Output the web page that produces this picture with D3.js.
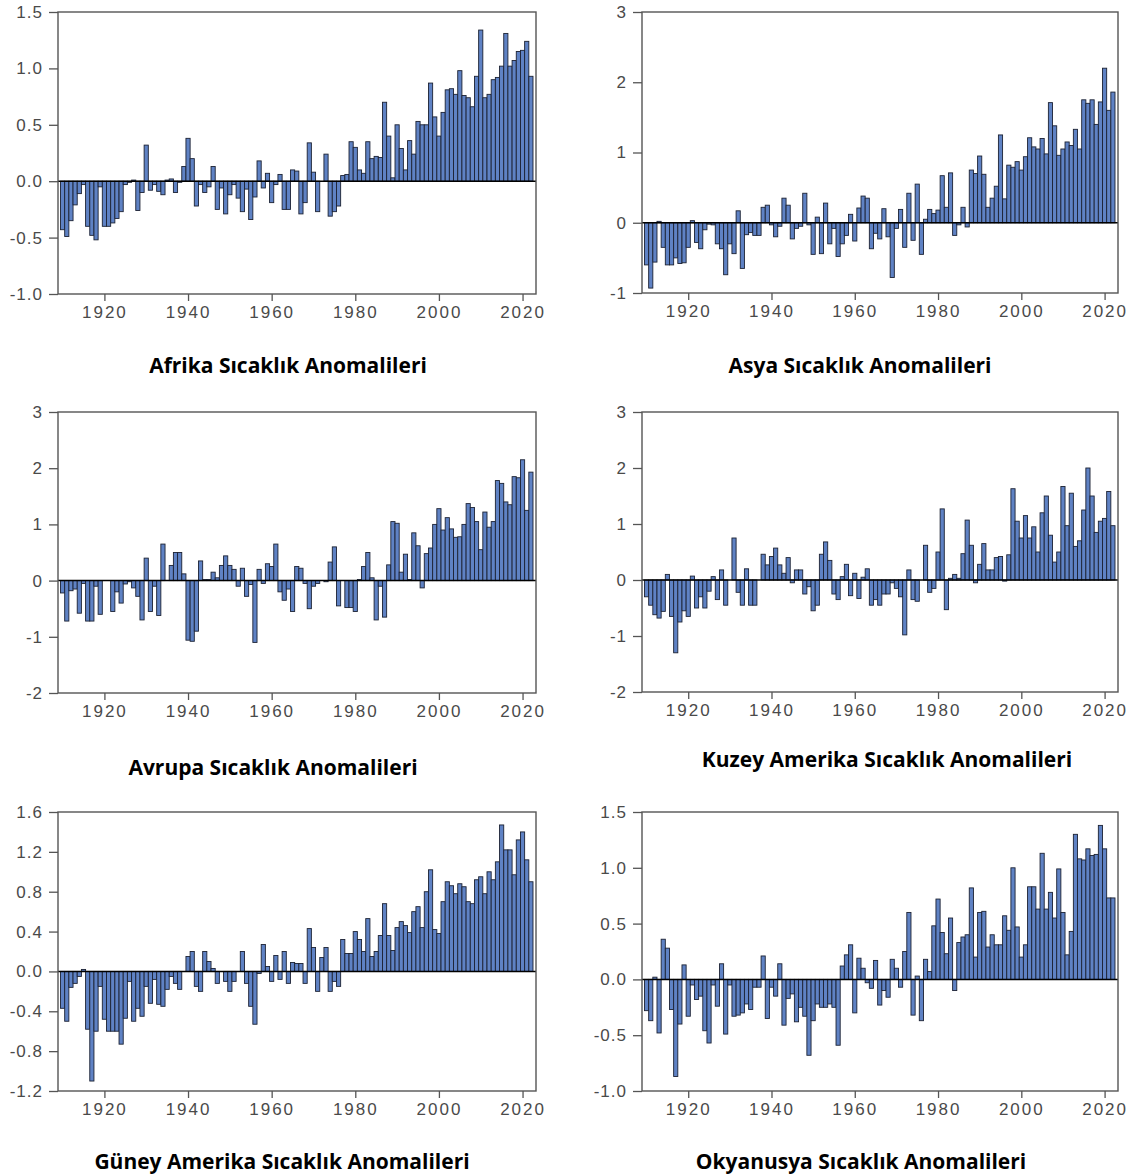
<!DOCTYPE html>
<html>
<head>
<meta charset="utf-8">
<script src="https://cdn.jsdelivr.net/npm/d3@7"></script>
<style>
  body { margin: 0; background: #fff; }
  .tick text { font-family: "Liberation Sans", Arial, sans-serif; font-size: 17px; fill: #4a4a4a; letter-spacing: 1px; }
  .xaxis .tick text { letter-spacing: 2px; }
  .title { font-family: "Open Sans", Lato, sans-serif; font-weight: 700; font-size: 21px; fill: #000; }
</style>
</head>
<body>
<svg id="chart" width="1137" height="1174"></svg>
<script>
// yearly anomalies, 1910 - 2022
var years = d3.range(1910, 2023);

var afrika = [
  -0.43, -0.49, -0.35, -0.21, -0.11, -0.03, -0.40, -0.48, -0.52, -0.05,
  -0.40, -0.40, -0.37, -0.33, -0.27, -0.03, -0.01, 0.01, -0.26, -0.10,
  0.32, -0.08, -0.03, -0.09, -0.12, 0.01, 0.02, -0.10, -0.01, 0.13,
  0.38, 0.20, -0.22, -0.03, -0.10, -0.05, 0.13, -0.25, -0.06, -0.29,
  -0.12, -0.03, -0.15, -0.27, -0.07, -0.34, -0.14, 0.18, -0.06, 0.07,
  -0.19, -0.03, 0.06, -0.25, -0.25, 0.10, 0.09, -0.29, -0.19, 0.34,
  0.08, -0.27, 0.00, 0.24, -0.31, -0.27, -0.22, 0.05, 0.06, 0.35,
  0.30, 0.10, 0.07, 0.35, 0.20, 0.22, 0.21, 0.70, 0.40, 0.03,
  0.50, 0.29, 0.10, 0.36, 0.24, 0.53, 0.50, 0.50, 0.87, 0.57,
  0.40, 0.61, 0.81, 0.82, 0.77, 0.98, 0.76, 0.74, 0.66, 0.93,
  1.34, 0.74, 0.77, 0.90, 0.92, 1.02, 1.31, 1.02, 1.07, 1.15,
  1.16, 1.24, 0.93
];

var asya = [
  -0.60, -0.93, -0.56, 0.02, -0.35, -0.60, -0.60, -0.50, -0.58, -0.57,
  -0.35, 0.03, -0.28, -0.37, -0.10, -0.02, -0.03, -0.30, -0.37, -0.74,
  -0.30, -0.44, 0.17, -0.65, -0.17, -0.14, -0.18, -0.18, 0.22, 0.25,
  -0.03, -0.20, -0.05, 0.35, 0.25, -0.23, -0.08, -0.05, 0.42, -0.03,
  -0.45, 0.08, -0.44, 0.28, -0.30, -0.08, -0.48, -0.30, -0.18, 0.12,
  -0.26, 0.21, 0.38, 0.35, -0.37, -0.15, -0.23, 0.20, -0.20, -0.78,
  -0.08, 0.19, -0.35, 0.42, -0.25, 0.55, -0.45, 0.05, 0.19, 0.13,
  0.18, 0.67, 0.22, 0.71, -0.18, -0.03, 0.22, -0.06, 0.75, 0.70,
  0.95, 0.69, 0.22, 0.35, 0.52, 1.25, 0.34, 0.82, 0.79, 0.87,
  0.75, 0.94, 1.21, 1.08, 1.05, 1.20, 0.98, 1.71, 1.38, 0.96,
  1.05, 1.15, 1.10, 1.33, 1.05, 1.75, 1.70, 1.75, 1.40, 1.72,
  2.20, 1.60, 1.86
];

var avrupa = [
  -0.22, -0.72, -0.18, -0.15, -0.58, -0.05, -0.72, -0.72, -0.10, -0.60,
  0.00, 0.00, -0.55, -0.20, -0.40, -0.06, -0.02, -0.13, -0.28, -0.70,
  0.40, -0.55, -0.10, -0.62, 0.65, 0.00, 0.27, 0.50, 0.50, 0.12,
  -1.06, -1.08, -0.90, 0.35, 0.02, 0.02, 0.15, 0.05, 0.27, 0.44,
  0.27, 0.20, -0.10, 0.22, -0.28, -0.07, -1.10, 0.20, -0.05, 0.30,
  0.25, 0.65, -0.20, -0.35, -0.15, -0.55, 0.25, 0.22, -0.05, -0.50,
  -0.10, -0.05, 0.00, -0.02, 0.33, 0.60, -0.45, 0.00, -0.48, -0.48,
  -0.55, 0.02, 0.25, 0.50, 0.05, -0.70, -0.10, -0.65, 0.28, 1.05,
  1.02, 0.15, 0.47, 0.02, 0.85, 0.62, -0.13, 0.48, 0.58, 1.00,
  1.28, 0.90, 1.12, 0.92, 0.77, 0.78, 1.00, 1.37, 1.30, 1.05,
  0.55, 1.22, 0.95, 1.05, 1.78, 1.73, 1.40, 1.35, 1.85, 1.83,
  2.15, 1.25, 1.93
];

var kuzeyAmerika = [
  -0.30, -0.45, -0.62, -0.68, -0.56, 0.10, -0.65, -1.30, -0.75, -0.55,
  -0.65, 0.07, -0.50, -0.30, -0.50, -0.20, 0.06, -0.35, 0.18, -0.45,
  0.00, 0.75, -0.22, -0.45, 0.20, -0.45, -0.45, 0.00, 0.46, 0.27,
  0.42, 0.57, 0.27, 0.12, 0.40, -0.05, 0.18, 0.18, -0.25, -0.12,
  -0.55, -0.45, 0.46, 0.68, 0.35, -0.25, -0.35, 0.06, 0.28, -0.28,
  0.12, -0.33, 0.05, 0.20, -0.45, -0.35, -0.45, -0.25, -0.25, -0.05,
  -0.15, -0.30, -0.98, 0.18, -0.35, -0.38, 0.00, 0.62, -0.22, -0.15,
  0.50, 1.27, -0.53, 0.03, 0.10, 0.03, 0.47, 1.07, 0.62, -0.05,
  0.28, 0.65, 0.18, 0.18, 0.40, 0.42, -0.02, 0.45, 1.63, 1.05,
  0.75, 1.15, 0.75, 0.95, 0.50, 1.20, 1.50, 0.80, 0.32, 0.50,
  1.67, 0.97, 1.55, 0.60, 0.70, 1.25, 2.00, 1.50, 0.85, 1.05,
  1.10, 1.58, 0.97
];

var guneyAmerika = [
  -0.37, -0.50, -0.16, -0.12, -0.05, 0.02, -0.58, -1.10, -0.60, -0.15,
  -0.48, -0.60, -0.60, -0.60, -0.73, -0.47, -0.10, -0.50, -0.37, -0.45,
  -0.15, -0.32, -0.08, -0.33, -0.35, -0.18, -0.05, -0.12, -0.18, 0.00,
  0.15, 0.20, -0.15, -0.20, 0.20, 0.10, 0.03, -0.12, 0.00, -0.10,
  -0.20, -0.10, 0.00, 0.20, -0.12, -0.35, -0.53, -0.02, 0.27, 0.05,
  -0.10, 0.16, -0.08, 0.20, -0.12, 0.09, 0.08, 0.08, -0.12, 0.43,
  0.24, -0.20, 0.14, 0.24, -0.20, -0.10, -0.15, 0.32, 0.18, 0.18,
  0.40, 0.32, 0.20, 0.53, 0.15, 0.20, 0.36, 0.68, 0.36, 0.21,
  0.44, 0.50, 0.46, 0.39, 0.60, 0.65, 0.44, 0.80, 1.02, 0.42,
  0.38, 0.70, 0.90, 0.86, 0.78, 0.88, 0.85, 0.70, 0.68, 0.92,
  0.95, 0.78, 1.00, 0.92, 1.10, 1.47, 1.22, 1.22, 0.97, 1.32,
  1.40, 1.12, 0.90
];

var okyanusya = [
  -0.28, -0.37, 0.02, -0.48, 0.36, 0.28, -0.27, -0.87, -0.40, 0.13,
  -0.33, -0.05, -0.18, -0.15, -0.46, -0.57, -0.05, -0.24, 0.14, -0.49,
  -0.05, -0.33, -0.32, -0.30, -0.22, -0.27, -0.07, -0.07, 0.21, -0.35,
  -0.07, -0.15, 0.14, -0.41, -0.17, -0.13, -0.38, -0.25, -0.33, -0.68,
  -0.37, -0.22, -0.25, -0.25, -0.22, -0.25, -0.59, 0.12, 0.22, 0.31,
  -0.30, 0.19, 0.10, -0.03, -0.08, 0.17, -0.23, -0.10, -0.16, 0.18,
  0.10, -0.07, 0.25, 0.60, -0.32, 0.03, -0.37, 0.18, 0.07, 0.48,
  0.72, 0.42, 0.23, 0.55, -0.10, 0.33, 0.38, 0.40, 0.82, 0.20,
  0.60, 0.61, 0.29, 0.40, 0.31, 0.31, 0.57, 0.44, 1.00, 0.47,
  0.20, 0.31, 0.83, 0.83, 0.63, 1.13, 0.63, 0.78, 0.55, 0.99,
  0.60, 0.22, 0.43, 1.30, 1.08, 1.07, 1.17, 1.11, 1.12, 1.38,
  1.17, 0.73, 0.73
];

var yearTicks = [1920, 1940, 1960, 1980, 2000, 2020];
var ticksHalf = [-1.0, -0.5, 0.0, 0.5, 1.0, 1.5];
var ticksAsia = [-1, 0, 1, 2, 3];
var ticksWide = [-2, -1, 0, 1, 2, 3];
var ticksSouth = [-1.2, -0.8, -0.4, 0.0, 0.4, 0.8, 1.2, 1.6];

var titles = [
  'Afrika Sıcaklık Anomalileri',
  'Asya Sıcaklık Anomalileri',
  'Avrupa Sıcaklık Anomalileri',
  'Kuzey Amerika Sıcaklık Anomalileri',
  'Güney Amerika Sıcaklık Anomalileri',
  'Okyanusya Sıcaklık Anomalileri'
];

// layout: frame box [left, top, right, bottom] and title centre
var panels = [
  { title: titles[0], values: afrika, ticks: ticksHalf, fmt: '.1f', box: [58, 12, 536, 294], tx: 288, ty: 373 },
  { title: titles[1], values: asya, ticks: ticksAsia, fmt: 'd', box: [642, 12, 1118, 293], tx: 860, ty: 373 },
  { title: titles[2], values: avrupa, ticks: ticksWide, fmt: 'd', box: [58, 412, 536, 693], tx: 273, ty: 775 },
  { title: titles[3], values: kuzeyAmerika, ticks: ticksWide, fmt: 'd', box: [642, 412, 1118, 692], tx: 887, ty: 767 },
  { title: titles[4], values: guneyAmerika, ticks: ticksSouth, fmt: '.1f', box: [58, 812, 536, 1091], tx: 282, ty: 1169 },
  { title: titles[5], values: okyanusya, ticks: ticksHalf, fmt: '.1f', box: [642, 812, 1118, 1091], tx: 861, ty: 1169 }
];

var svg = d3.select('#chart');

panels.forEach(function (p) {
  var left = p.box[0], top = p.box[1], right = p.box[2], bottom = p.box[3];
  var ext = d3.extent(p.ticks);

  var x = d3.scaleLinear().domain([1909.5, 2022.5]).range([left + 2.5, right - 3]);
  var y = d3.scaleLinear().domain(ext).range([bottom, top]);
  var f = d3.format(p.fmt);
  var fmt = function (d) { return f(d).replace('\u2212', '-'); };

  var g = svg.append('g');

  // bars
  g.append('g').selectAll('rect')
    .data(p.values)
    .join('rect')
    .attr('x', function (d, i) { return x(years[i] - 0.5); })
    .attr('width', function (d, i) { return x(years[i] + 0.5) - x(years[i] - 0.5); })
    .attr('y', function (d) { return y(Math.max(0, d)); })
    .attr('height', function (d) { return Math.abs(y(d) - y(0)); })
    .attr('fill', '#5f82c4')
    .attr('stroke', '#1c2233')
    .attr('stroke-width', 0.9);

  // zero line
  g.append('line')
    .attr('x1', left).attr('x2', right)
    .attr('y1', y(0)).attr('y2', y(0))
    .attr('stroke', '#000').attr('stroke-width', 1.5);

  // frame
  g.append('rect')
    .attr('x', left).attr('y', top)
    .attr('width', right - left).attr('height', bottom - top)
    .attr('fill', 'none').attr('stroke', '#555').attr('stroke-width', 1.4);

  var ya = g.append('g')
    .attr('transform', 'translate(' + left + ',0)')
    .call(d3.axisLeft(y).tickValues(p.ticks).tickFormat(fmt).tickSize(9).tickPadding(6));
  ya.select('.domain').remove();
  ya.selectAll('.tick line').attr('stroke', '#555').attr('stroke-width', 1.3);

  var xa = g.append('g')
    .attr('class', 'xaxis')
    .attr('transform', 'translate(0,' + bottom + ')')
    .call(d3.axisBottom(x).tickValues(yearTicks).tickFormat(d3.format('d')).tickSize(7).tickPadding(5));
  xa.select('.domain').remove();
  xa.selectAll('.tick line').attr('stroke', '#555').attr('stroke-width', 1.3);

  g.append('text')
    .attr('class', 'title')
    .attr('x', p.tx).attr('y', p.ty)
    .attr('text-anchor', 'middle')
    .text(p.title);
});
</script>
</body>
</html>
